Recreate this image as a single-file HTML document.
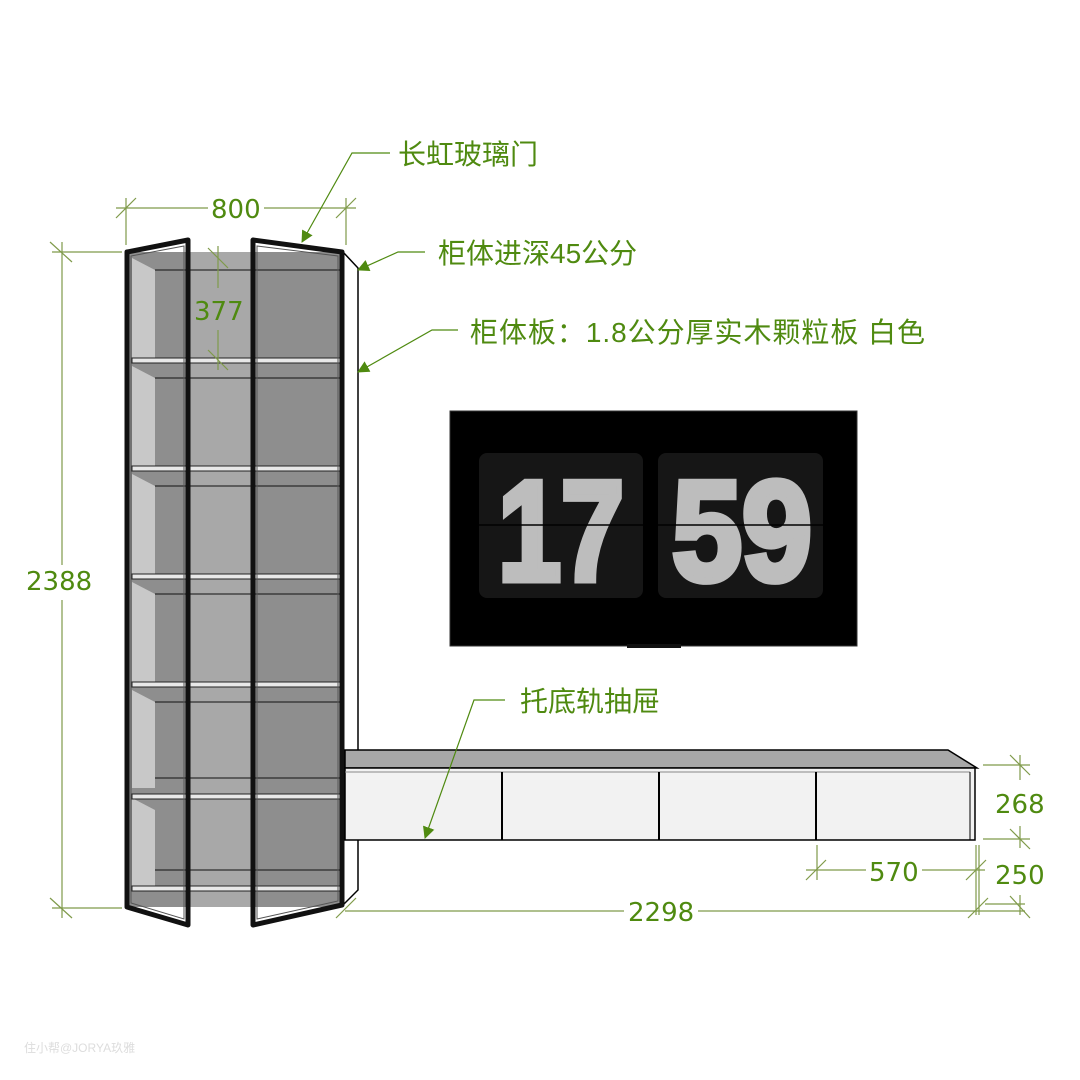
<!DOCTYPE html>
<html><head><meta charset="utf-8"><style>
html,body{margin:0;padding:0;background:#fff;}
svg{display:block;}
text{font-family:"Liberation Sans","Noto Sans CJK SC",sans-serif;}
text.n{font-family:"DejaVu Sans",sans-serif;}
</style></head><body>
<svg width="1080" height="1080" viewBox="0 0 1080 1080" xmlns="http://www.w3.org/2000/svg">
<defs>
<marker id="ar" markerWidth="12" markerHeight="12" refX="11" refY="6" orient="auto" markerUnits="userSpaceOnUse" viewBox="0 0 12 12"><path d="M0,0 L12,6 L0,12 Z" fill="#4f8a10"/></marker>
</defs>
<rect x="127" y="252" width="216" height="655" fill="#8e8e8e"/>
<rect x="190" y="252" width="62" height="655" fill="#a8a8a8"/>
<g fill="#c8c8c8">
<polygon points="132,258 155,270 155,360 132,360"/>
<polygon points="132,366 155,378 155,468 132,468"/>
<polygon points="132,474 155,486 155,576 132,576"/>
<polygon points="132,582 155,594 155,684 132,684"/>
<polygon points="132,690 155,702 155,788 132,788"/>
<polygon points="132,798 155,810 155,888 132,888"/>
</g>
<g fill="#e8e8e8" stroke="#222" stroke-width="1">
<rect x="132" y="358" width="208" height="5"/>
<rect x="132" y="466" width="208" height="5"/>
<rect x="132" y="574" width="208" height="5"/>
<rect x="132" y="682" width="208" height="5"/>
<rect x="132" y="794" width="208" height="5"/>
<rect x="132" y="886" width="208" height="5"/>
</g>
<g stroke="#111" stroke-width="1" fill="none">
<line x1="155" y1="270" x2="340" y2="270"/><line x1="155" y1="378" x2="340" y2="378"/>
<line x1="155" y1="486" x2="340" y2="486"/><line x1="155" y1="594" x2="340" y2="594"/>
<line x1="155" y1="702" x2="340" y2="702"/><line x1="155" y1="778" x2="340" y2="778"/>
<line x1="155" y1="870" x2="340" y2="870"/>
</g>
<polygon points="343,252 358,268 358,890 343,905" fill="#fff" stroke="#000" stroke-width="1.5"/>
<g fill="none" stroke="#111" stroke-width="5" stroke-linejoin="round">
<polygon points="127,252 188,240 188,925 127,907"/>
<polygon points="253,240 342,252 342,905 253,925"/>
</g>
<g fill="none" stroke="#555" stroke-width="1">
<polygon points="131,256 184,246 184,919 131,903"/>
<polygon points="257,246 338,256 338,901 257,919"/>
</g>
<polygon points="345,750 948,750 977,768 345,768" fill="#a8a8a8" stroke="#000" stroke-width="1.5"/>
<rect x="345" y="768" width="630" height="72" fill="#f2f2f2" stroke="#000" stroke-width="1.5"/>
<line x1="345" y1="772" x2="970" y2="772" stroke="#888" stroke-width="1"/>
<line x1="970" y1="772" x2="970" y2="840" stroke="#000" stroke-width="1"/>
<g stroke="#000" stroke-width="2"><line x1="502" y1="772" x2="502" y2="840"/><line x1="659" y1="772" x2="659" y2="840"/><line x1="816" y1="772" x2="816" y2="840"/></g>
<rect x="450" y="411" width="407" height="235" fill="#000" stroke="#333" stroke-width="1"/>
<rect x="627" y="644" width="54" height="4" fill="#111"/>
<rect x="479" y="453" width="164" height="145" rx="8" fill="#161616"/>
<rect x="658" y="453" width="165" height="145" rx="8" fill="#161616"/>
<g font-size="142" font-weight="bold" fill="#bdbdbd" stroke="#bdbdbd" stroke-width="7" stroke-linejoin="miter">
<text x="498" y="580" textLength="126" lengthAdjust="spacingAndGlyphs">17</text>
<text x="672" y="580" textLength="140" lengthAdjust="spacingAndGlyphs">59</text>
</g>
<line x1="479" y1="525" x2="823" y2="525" stroke="#000" stroke-width="1.5"/>
<g stroke="#7f9a4a" stroke-width="1.2" fill="none">
<line x1="116" y1="208" x2="208" y2="208"/><line x1="264" y1="208" x2="356" y2="208"/><line x1="126" y1="198" x2="126" y2="245"/><line x1="346" y1="198" x2="346" y2="245"/>
<line x1="116" y1="218" x2="136" y2="198"/><line x1="336" y1="218" x2="356" y2="198"/>
<line x1="52" y1="252" x2="122" y2="252"/><line x1="52" y1="908" x2="122" y2="908"/>
<line x1="62" y1="242" x2="62" y2="565"/><line x1="62" y1="600" x2="62" y2="918"/><line x1="50" y1="242" x2="72" y2="262"/><line x1="50" y1="898" x2="72" y2="918"/>
<line x1="218" y1="246" x2="218" y2="288"/><line x1="218" y1="330" x2="218" y2="370"/>
<line x1="208" y1="248" x2="228" y2="268"/><line x1="208" y1="350" x2="228" y2="370"/>
<line x1="345" y1="911" x2="624" y2="911"/><line x1="698" y1="911" x2="1025" y2="911"/><line x1="336" y1="918" x2="356" y2="898"/><line x1="968" y1="918" x2="988" y2="898"/>
<line x1="976" y1="845" x2="976" y2="915"/><line x1="979" y1="845" x2="979" y2="915"/>
<line x1="817" y1="845" x2="817" y2="880"/>
<line x1="806" y1="870" x2="866" y2="870"/><line x1="922" y1="870" x2="985" y2="870"/>
<line x1="806" y1="880" x2="826" y2="860"/><line x1="966" y1="880" x2="986" y2="860"/>
<line x1="983" y1="765" x2="1030" y2="765"/><line x1="983" y1="839" x2="1030" y2="839"/>
<line x1="1020" y1="755" x2="1020" y2="780"/><line x1="1020" y1="826" x2="1020" y2="848"/>
<line x1="1010" y1="755" x2="1030" y2="775"/><line x1="1010" y1="829" x2="1030" y2="849"/>
<line x1="985" y1="904" x2="1025" y2="904"/><line x1="1020" y1="895" x2="1020" y2="915"/><line x1="1010" y1="896" x2="1030" y2="918"/>
</g>
<g stroke="#4f8a10" stroke-width="1.2" fill="none">
<polyline points="390,153 352,153 302,242" marker-end="url(#ar)"/>
<polyline points="425,252 398,252 358,270" marker-end="url(#ar)"/>
<polyline points="458,330 432,330 358,372" marker-end="url(#ar)"/>
<polyline points="505,700 474,700 425,838" marker-end="url(#ar)"/>
</g>
<g fill="#4f8a10" font-size="26">
<text class="n" x="211" y="218">800</text>
<text class="n" x="194" y="320">377</text>
<text class="n" x="26" y="590">2388</text>
<text class="n" x="628" y="921">2298</text>
<text class="n" x="869" y="881">570</text>
<text class="n" x="995" y="813">268</text>
<text class="n" x="995" y="884">250</text>
</g>
<g fill="#4f8a10" font-size="28">
<text x="398" y="164">长虹玻璃门</text>
<text x="438" y="263">柜体进深45公分</text>
<text x="470" y="342" textLength="455" lengthAdjust="spacing">柜体板：1.8公分厚实木颗粒板 白色</text>
<text x="520" y="711">托底轨抽屉</text>
</g>
<text x="24" y="1052" font-size="12" fill="#ddd">住小帮@JORYA玖雅</text>
</svg>
</body></html>
